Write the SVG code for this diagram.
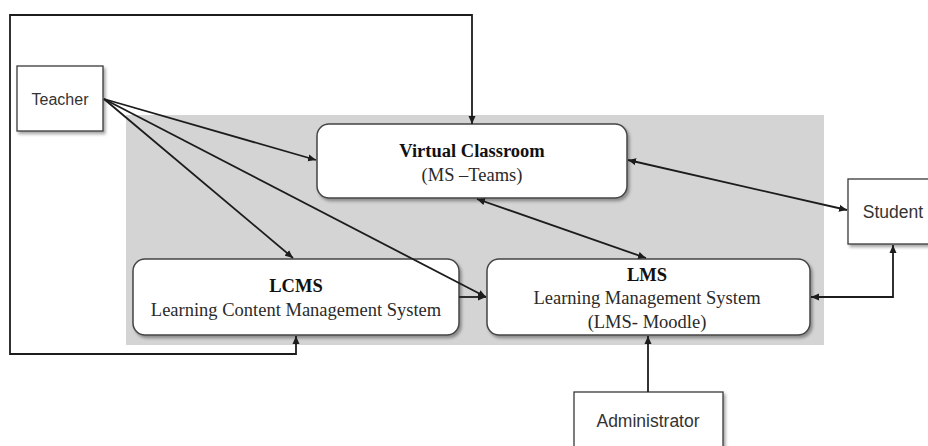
<svg xmlns="http://www.w3.org/2000/svg" width="928" height="446" viewBox="0 0 928 446">
<style>
.bg{fill:#ffffff}
.area{fill:#d4d4d4}
.actor{fill:#ffffff;stroke:#3a3a3a;stroke-width:1.3}
.sys{fill:#ffffff;stroke:#444444;stroke-width:1.5}
.conn{fill:none;stroke:#1c1c1c;stroke-width:1.8}
.sans{font-family:"Liberation Sans",Arial,sans-serif;font-size:17.5px;fill:#333333;text-anchor:middle}
.serif{font-family:"Liberation Serif","Times New Roman",serif;font-size:18.5px;fill:#2a2a2a;text-anchor:middle}
.b{font-weight:bold;fill:#111111}
</style>
<defs>
<marker id="arr" markerUnits="userSpaceOnUse" markerWidth="9" markerHeight="8" refX="8" refY="4" orient="auto-start-reverse">
<path d="M0,0.5 L8,4 L0,7.5 z" fill="#1c1c1c"/>
</marker>
<filter id="sh" x="-10%" y="-10%" width="130%" height="140%">
<feDropShadow dx="2" dy="2.5" stdDeviation="1.8" flood-color="#000000" flood-opacity="0.35"/>
</filter>
</defs>
<rect class="bg" x="0" y="0" width="928" height="446"/>
<rect id="system-area" class="area" x="126" y="115" width="698" height="230"/>

<g id="teacher">
<rect class="actor" x="17" y="66" width="86" height="65" filter="url(#sh)"/>
<text class="sans" x="60" y="105" style="font-size:16px">Teacher</text>
</g>

<g id="virtual-classroom">
<rect class="sys" x="317" y="124" width="310" height="74" rx="12" ry="12" filter="url(#sh)"/>
<text class="serif b" x="472" y="157">Virtual Classroom</text>
<text class="serif" x="472" y="181">(MS –Teams)</text>
</g>

<g id="lcms">
<rect class="sys" x="133" y="259" width="326" height="76" rx="12" ry="12" filter="url(#sh)"/>
<text class="serif b" x="296" y="292">LCMS</text>
<text class="serif" x="296" y="316">Learning Content Management System</text>
</g>

<g id="lms">
<rect class="sys" x="487" y="259" width="323" height="76" rx="12" ry="12" filter="url(#sh)"/>
<text class="serif b" x="647" y="281">LMS</text>
<text class="serif" x="647" y="304">Learning Management System</text>
<text class="serif" x="647" y="328">(LMS- Moodle)</text>
</g>

<g id="student">
<rect class="actor" x="848" y="179" width="90" height="65" filter="url(#sh)"/>
<text class="sans" x="893" y="218">Student</text>
</g>

<g id="administrator">
<rect class="actor" x="574" y="392" width="149" height="70" filter="url(#sh)"/>
<text class="sans" x="648" y="427">Administrator</text>
</g>

<g id="connectors">
<path class="conn" d="M296,336 V354 H10 V15 H472 V124" marker-start="url(#arr)" marker-end="url(#arr)"/>
<path class="conn" d="M104,99 L316,160" marker-end="url(#arr)"/>
<path class="conn" d="M104,99 L293,258" marker-end="url(#arr)"/>
<path class="conn" d="M104,99 L486,297" marker-end="url(#arr)"/>
<path class="conn" d="M459,297 H486" marker-end="url(#arr)"/>
<path class="conn" d="M477,199 L646,258" marker-start="url(#arr)" marker-end="url(#arr)"/>
<path class="conn" d="M628,160 L847,210" marker-start="url(#arr)" marker-end="url(#arr)"/>
<path class="conn" d="M811,297 H893 V245" marker-start="url(#arr)" marker-end="url(#arr)"/>
<path class="conn" d="M648,392 V336" marker-end="url(#arr)"/>
</g>
</svg>
